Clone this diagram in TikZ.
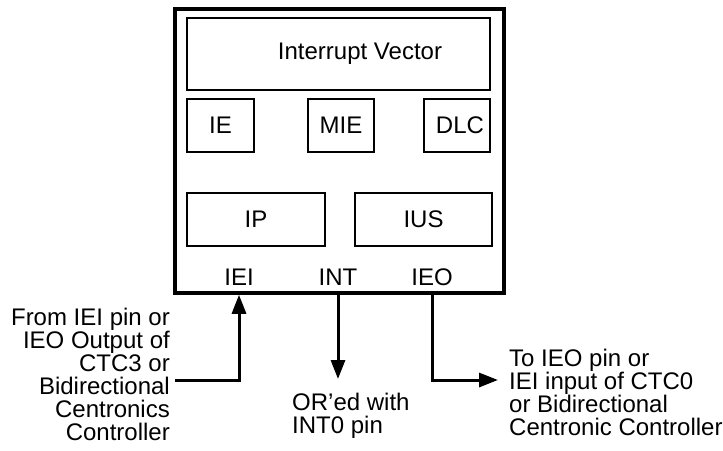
\documentclass[tikz,border=0pt]{standalone}
\usepackage{fontspec}
\setmainfont{Liberation Sans}
\usetikzlibrary{arrows.meta}

\tikzset{
  reg/.style={draw,line width=2pt,inner sep=0pt},
  pin/.style={anchor=base,inner sep=0pt},
  note/.style={inner sep=0pt},
  sig/.style={line width=3pt,-{Triangle[length=19pt,width=14pt]}}
}

\begin{document}
\begin{tikzpicture}[x=1pt,y=-1pt,font=\fontsize{24}{23}\selectfont]
\useasboundingbox (0,0) rectangle (723,450);
% the chip and its registers
\node[draw,line width=3.5pt,minimum width=329pt,minimum height=284pt] (chip) at (339.5,151) {};
\node[reg,minimum width=303pt,minimum height=72pt] (vec) at (338.5,54) {\hspace*{43pt}Interrupt Vector};
\node[reg,minimum width=67pt,minimum height=53pt] (ie) at (220.5,125.5) {IE};
\node[reg,minimum width=66pt,minimum height=53pt] (mie) at (341,125.5) {MIE};
\node[reg,minimum width=66pt,minimum height=53pt] (dlc) at (457,125.5) {\hspace*{6pt}DLC};
\node[reg,minimum width=138pt,minimum height=53pt] (ip) at (256,219.5) {IP};
\node[reg,minimum width=137pt,minimum height=53pt] (ius) at (423.5,219.5) {IUS};
\node[pin] (iei) at (239,285) {IEI};
\node[pin] (int) at (338,285) {INT};
\node[pin] (ieo) at (432,285) {IEO};
% outside connections (base anchor = last line)
\node[note,anchor=base east,align=right] (from) at (170,440) {From IEI pin or\\IEO Output of\\CTC3 or\\Bidirectional\\Centronics\\Controller};
\node[note,anchor=base west,align=left] (ored) at (292,433) {OR’ed with\\INT0 pin};
\node[note,anchor=base west,align=left] (to) at (509,435) {To IEO pin or\\IEI input of CTC0\\or Bidirectional\\Centronic Controller};
\coordinate (ieiin) at (175,380);
\coordinate (intout) at (338,379);
\coordinate (ieoout) at (498,380);
\draw[sig] (ieiin) -| (iei |- chip.south);
\draw[sig] (int |- chip.south) -- (intout);
\draw[sig] (ieo |- chip.south) |- (ieoout);
\end{tikzpicture}
\end{document}
